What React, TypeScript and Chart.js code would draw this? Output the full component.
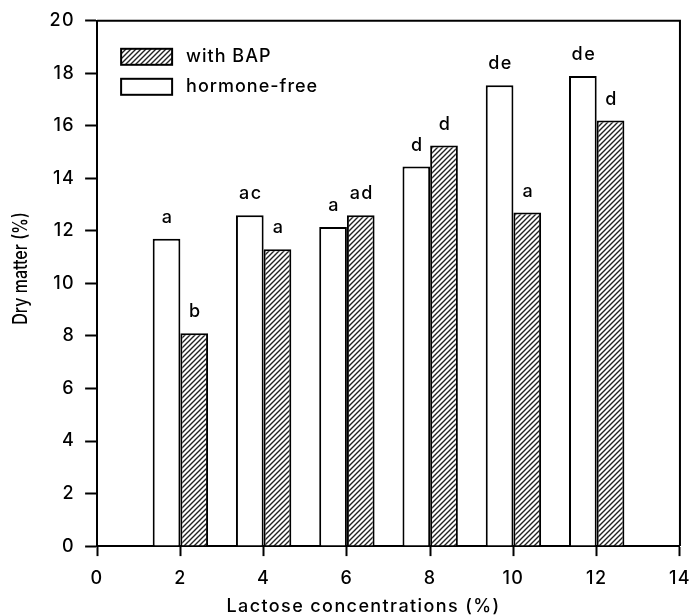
import React, { useEffect, useRef } from 'react';
import { Chart, registerables } from 'chart.js';

Chart.register(...registerables);

// Lactose concentration (%) for each pair of bars
const lactose = [2, 4, 6, 8, 10, 12];
// Dry matter (%)
const hormoneFree = [11.7, 12.6, 12.15, 14.45, 17.55, 17.9];
const withBAP = [8.1, 11.3, 12.6, 15.25, 12.7, 16.2];
// Significance letters above bars
const hormoneFreeLetters = ['a', 'ac', 'a', 'd', 'de', 'de'];
const withBAPLetters = ['b', 'a', 'ad', 'd', 'a', 'd'];
// Axis ranges and titles
const xRange = [0, 14];
const yRange = [0, 20];
const tickStep = 2;
const xTitle = 'Lactose concentrations (%)';
const yTitle = 'Dry matter (%)';

const FONT = "Inter, 'Liberation Sans', Arial, sans-serif";
const WEIGHT = 500;
const SPACING = '1.4px';

function makeHatch(ctx: CanvasRenderingContext2D): CanvasPattern | string {
  const tile = document.createElement('canvas');
  const s = 5;
  tile.width = s;
  tile.height = s;
  const t = tile.getContext('2d')!;
  t.fillStyle = '#ffffff';
  t.fillRect(0, 0, s, s);
  t.strokeStyle = '#222';
  t.lineWidth = 1.4;
  t.beginPath();
  for (let k = -1; k <= 1; k++) {
    t.moveTo(-1 + k * s, s + 1);
    t.lineTo(s + 1 + k * s, -1);
  }
  t.stroke();
  return ctx.createPattern(tile, 'repeat') || '#888';
}

export default function App() {
  const ref = useRef<HTMLCanvasElement | null>(null);

  useEffect(() => {
    const canvas = ref.current;
    if (!canvas) return;
    const ctx = canvas.getContext('2d')!;
    const hatch = makeHatch(ctx);
    const letters = [hormoneFreeLetters, withBAPLetters];
    const font = { family: FONT, size: 18, weight: WEIGHT };

    const spacingPlugin = {
      id: 'spacing',
      beforeLayout(chart: any) {
        chart.ctx.letterSpacing = SPACING;
      },
      beforeDraw(chart: any) {
        chart.ctx.letterSpacing = SPACING;
      },
    };

    const framePlugin = {
      id: 'frame',
      afterDraw(chart: any) {
        const { ctx: c, chartArea: a } = chart;
        c.save();
        c.strokeStyle = '#000';
        c.lineWidth = 2;
        c.beginPath();
        c.moveTo(a.left, a.top);
        c.lineTo(a.right, a.top);
        c.lineTo(a.right, a.bottom);
        c.stroke();
        c.restore();
      },
    };

    const titlesPlugin = {
      id: 'axisTitles',
      afterDraw(chart: any) {
        const c = chart.ctx;
        const a = chart.chartArea;
        c.save();
        c.fillStyle = '#000';
        c.textAlign = 'center';
        c.textBaseline = 'middle';
        // x title
        c.letterSpacing = SPACING;
        c.font = `${WEIGHT} 18px ${FONT}`;
        c.fillText(xTitle, (a.left + a.right) / 2 - 25, chart.height - 9);
        // y title (rotated, glyphs widened like the horizontal text)
        c.letterSpacing = '0px';
        c.font = `${WEIGHT} 16px ${FONT}`;
        c.translate(a.left - 76, (a.top + a.bottom) / 2 - 15);
        c.rotate(-Math.PI / 2);
        c.scale(1, 1.22);
        c.fillText(yTitle, 0, 0);
        c.restore();
      },
    };

    const lettersPlugin = {
      id: 'letters',
      afterDatasetsDraw(chart: any) {
        const c = chart.ctx;
        c.save();
        c.letterSpacing = SPACING;
        c.fillStyle = '#000';
        c.font = `${WEIGHT} 18px ${FONT}`;
        c.textAlign = 'center';
        c.textBaseline = 'alphabetic';
        chart.data.datasets.forEach((_: any, di: number) => {
          const meta = chart.getDatasetMeta(di);
          meta.data.forEach((el: any, i: number) => {
            const txt = letters[di][i];
            if (txt) c.fillText(txt, el.x + 1, el.y - 16);
          });
        });
        c.restore();
      },
    };

    const legendPlugin = {
      id: 'insideLegend',
      afterDraw(chart: any) {
        const c = chart.ctx;
        const a = chart.chartArea;
        const order = [1, 0];
        c.save();
        c.letterSpacing = '1px';
        c.font = `${WEIGHT} 18px ${FONT}`;
        c.textAlign = 'left';
        c.textBaseline = 'middle';
        order.forEach((di, row) => {
          const ds = chart.data.datasets[di];
          const x = a.left + 24;
          const y = a.top + 28 + row * 30;
          c.fillStyle = ds.backgroundColor;
          c.fillRect(x, y, 51, 16);
          c.strokeStyle = '#000';
          c.lineWidth = 2;
          c.strokeRect(x, y, 51, 16);
          c.fillStyle = '#000';
          c.fillText(ds.label, x + 65, y + 8);
        });
        c.restore();
      },
    };

    const chart = new Chart(canvas, {
      type: 'bar',
      data: {
        datasets: [
          {
            label: 'hormone-free',
            data: lactose.map((x, i) => ({ x, y: hormoneFree[i] })),
            backgroundColor: '#ffffff',
            borderColor: '#000000',
            borderWidth: 2,
            categoryPercentage: 0.665,
            barPercentage: 1,
          },
          {
            label: 'with BAP',
            data: lactose.map((x, i) => ({ x, y: withBAP[i] })),
            backgroundColor: hatch as any,
            borderColor: '#000000',
            borderWidth: 2,
            categoryPercentage: 0.665,
            barPercentage: 1,
          },
        ],
      },
      options: {
        animation: false,
        responsive: true,
        maintainAspectRatio: false,
        layout: { padding: { left: 9, right: 8, top: 16, bottom: 0 } },
        font: font as any,
        plugins: {
          legend: { display: false },
          tooltip: { enabled: false },
        },
        scales: {
          x: {
            type: 'linear',
            min: xRange[0],
            max: xRange[1],
            offset: false,
            ticks: {
              stepSize: tickStep,
              color: '#000',
              padding: 0,
              font: { ...font, lineHeight: 2.55 },
              maxRotation: 0,
            },
            grid: {
              display: true,
              drawOnChartArea: false,
              drawTicks: true,
              tickLength: 10,
              tickColor: '#000',
              tickWidth: 2,
              offset: false,
            },
            border: { display: true, color: '#000', width: 2 },
            title: {
              display: true,
              text: xTitle,
              color: 'rgba(0,0,0,0)',
              font: { ...font, lineHeight: 1 },
              padding: { top: -4, bottom: 0 },
            },
          },
          y: {
            type: 'linear',
            min: yRange[0],
            max: yRange[1],
            ticks: {
              stepSize: tickStep,
              color: '#000',
              padding: 10,
              font,
            },
            grid: {
              display: true,
              drawOnChartArea: false,
              drawTicks: true,
              tickLength: 12,
              tickColor: '#000',
              tickWidth: 2,
            },
            border: { display: true, color: '#000', width: 2 },
            title: {
              display: true,
              text: yTitle,
              color: 'rgba(0,0,0,0)',
              font,
              padding: { top: 0, bottom: 9 },
            },
          },
        },
      },
      plugins: [spacingPlugin, framePlugin, lettersPlugin, legendPlugin, titlesPlugin],
    } as any);

    return () => chart.destroy();
  }, []);

  return (
    <div style={{ position: 'fixed', left: 0, top: 0, width: 691, height: 616, background: '#fff' }}>
      <canvas ref={ref} />
    </div>
  );
}
